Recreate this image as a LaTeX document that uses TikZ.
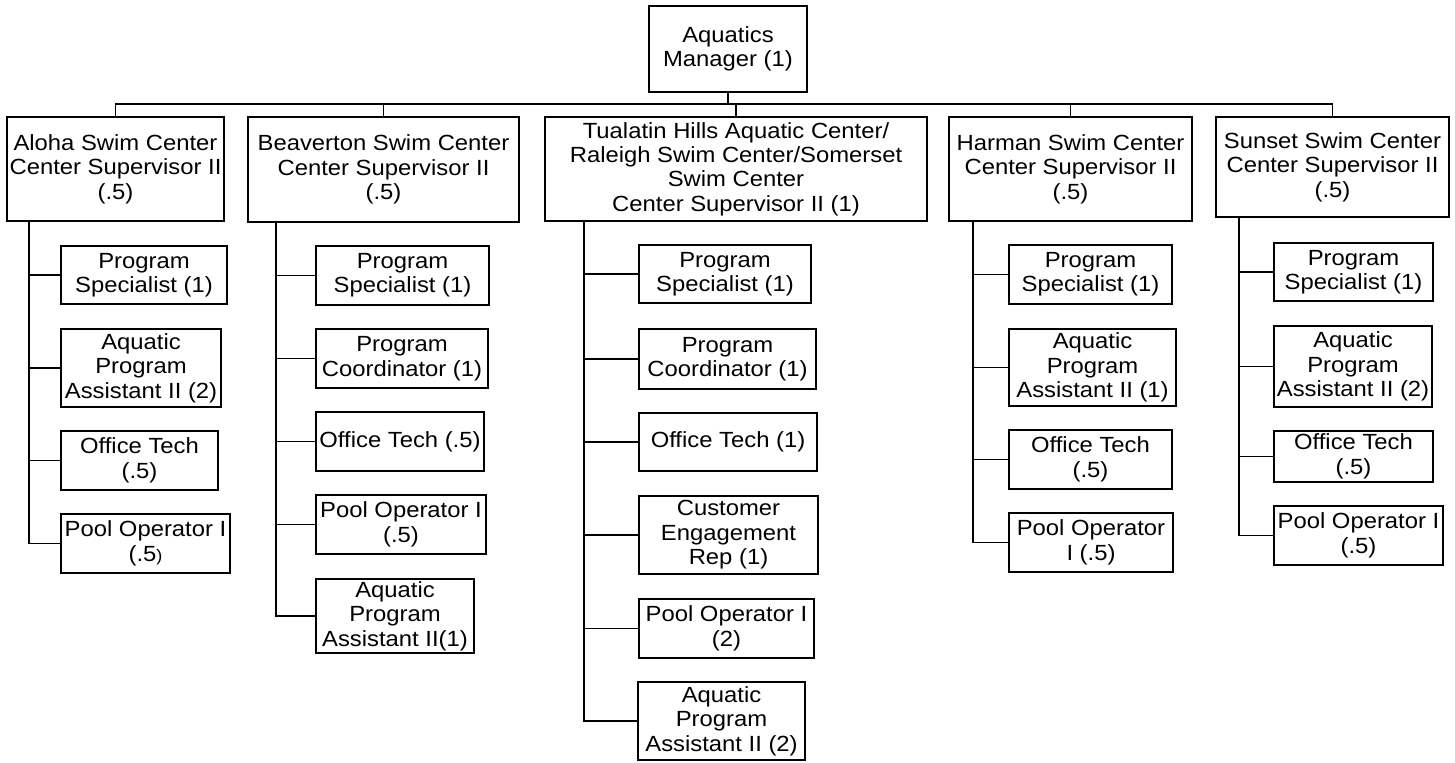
\documentclass[tikz,border=0pt]{standalone}
\usepackage{fontspec}
\setmainfont[FakeStretch=1.085]{Liberation Sans}
\begin{document}
\begin{tikzpicture}[
    x=0.02cm, y=-0.02cm,
    font=\fontsize{12.5pt}{13.9pt}\selectfont,
    size/.style 2 args={minimum width=#1*0.02cm, minimum height=#2*0.02cm},
    head/.style={rectangle, draw, line width=1.1pt, align=center, inner sep=0pt},
    sub/.style={rectangle, draw, line width=0.75pt, align=center, inner sep=0pt},
    bold/.style={line width=1.3pt},
    link/.style={line width=1.1pt},
    branch/.style={line width=0.8pt}
]
    \useasboundingbox (0,0) rectangle (1455,762);

    % Manager
    \node[head, size={158}{86}] (mgr) at (728,49) {Aquatics\\Manager (1)};

    % Swim centers
    \node[head, size={217}{104}] (aloha) at (115.5,169) {Aloha Swim Center\\Center Supervisor II\\(.5)};
    \node[head, size={271}{105}] (beav) at (383.5,169.5) {Beaverton Swim Center\\Center Supervisor II\\(.5)};
    \node[head, size={382}{104}] (tual) at (736,169) {Tualatin Hills Aquatic Center/\\Raleigh Swim Center/Somerset\\Swim Center\\Center Supervisor II (1)};
    \node[head, size={243}{104}] (harm) at (1070.5,169) {Harman Swim Center\\Center Supervisor II\\(.5)};
    \node[head, size={233}{100}] (suns) at (1332.5,167) {Sunset Swim Center\\Center Supervisor II\\(.5)};

    % Aloha staff
    \node[sub, size={166}{58}] (a1) at (144,275) {Program\\Specialist (1)};
    \node[sub, size={160}{78}] (a2) at (141,368) {Aquatic\\Program\\Assistant II (2)};
    \node[sub, bold, size={157}{59}] (a3) at (139.5,460.5) {Office Tech\\(.5)};
    \node[sub, size={169}{59}] (a4) at (145.5,543.5) {Pool Operator I\\(.5{\fontsize{9.5pt}{9.5pt}\selectfont)}};

    % Beaverton staff
    \node[sub, size={173}{59}] (b1) at (402.5,275.5) {Program\\Specialist (1)};
    \node[sub, size={172}{59}] (b2) at (402,358.5) {Program\\Coordinator (1)};
    \node[sub, size={168}{59}] (b3) at (400,441.5) {Office Tech (.5)};
    \node[sub, bold, size={170}{59}] (b4) at (401,524.5) {Pool Operator I\\(.5)};
    \node[sub, size={158}{74}] (b5) at (395,616) {Aquatic\\Program\\Assistant II(1)};

    % Tualatin staff
    \node[sub, size={172}{58}] (t1) at (725,274) {Program\\Specialist (1)};
    \node[sub, size={177}{60}] (t2) at (727.5,359) {Program\\Coordinator (1)};
    \node[sub, size={178}{58}] (t3) at (728,442) {Office Tech (1)};
    \node[sub, size={179}{78}] (t4) at (728.5,535) {Customer\\Engagement\\Rep (1)};
    \node[sub, size={175}{59}] (t5) at (726.5,628.5) {Pool Operator I\\(2)};
    \node[sub, size={167}{78}] (t6) at (721.5,721) {Aquatic\\Program\\Assistant II (2)};

    % Harman staff
    \node[sub, size={163}{59}] (h1) at (1090.5,274.5) {Program\\Specialist (1)};
    \node[sub, size={167}{77}] (h2) at (1092.5,367.5) {Aquatic\\Program\\Assistant II (1)};
    \node[sub, size={163}{59}] (h3) at (1090.5,459.5) {Office Tech\\(.5)};
    \node[sub, bold, size={164}{59}] (h4) at (1091,542.5) {Pool Operator\\I (.5)};

    % Sunset staff
    \node[sub, size={159}{58}] (s1) at (1353.5,272) {Program\\Specialist (1)};
    \node[sub, size={158}{81}] (s2) at (1353,366.5) {Aquatic\\Program\\Assistant II (2)};
    \node[sub, size={159}{51}] (s3) at (1353.5,456.5) {Office Tech\\(.5)};
    \node[sub, bold, size={169}{59}] (s4) at (1358.5,535.5) {Pool Operator I\\(.5)};

    % Bus and stems
    \coordinate (bus) at (728,104);
    \draw[link] (mgr.south) -- (bus);
    \draw[link] (aloha.north) |- (harm.north |- bus);
    \draw[branch] (harm.north |- bus) -| (suns.north);
    \foreach \n in {beav,tual,harm}
        \draw[branch] (\n.north) -- (\n.north |- bus);

    % Trunks
    \coordinate (ta) at (29,221);
    \coordinate (tb) at (276,222);
    \coordinate (tt) at (584,221);
    \coordinate (th) at (973,221);
    \coordinate (ts) at (1239,217);
    \draw[link] (ta) |- (a4.west);
    \draw[link] (tb) |- (b5.west);
    \draw[link] (tt) |- (t6.west);
    \draw[link] (th) |- (h4.west);
    \draw[link] (ts) |- (s4.west);

    % Branches
    \foreach \c in {a1,a2,a3}
        \draw[branch] (\c.west) -- (\c.west -| ta);
    \foreach \c in {b1,b2,b3,b4}
        \draw[branch] (\c.west) -- (\c.west -| tb);
    \foreach \c in {t1,t2,t3,t4,t5}
        \draw[branch] (\c.west) -- (\c.west -| tt);
    \foreach \c in {h1,h2,h3}
        \draw[branch] (\c.west) -- (\c.west -| th);
    \foreach \c in {s1,s2,s3}
        \draw[branch] (\c.west) -- (\c.west -| ts);
\end{tikzpicture}
\end{document}
